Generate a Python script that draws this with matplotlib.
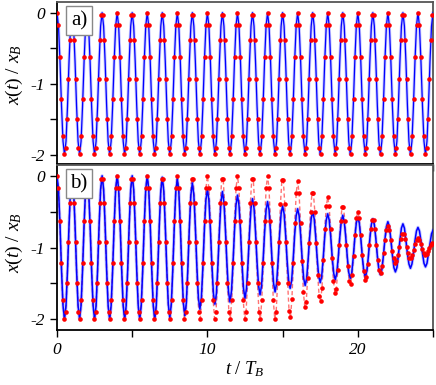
import numpy as np
import matplotlib
matplotlib.use('Agg')
import matplotlib.pyplot as plt
from matplotlib.ticker import MultipleLocator

plt.rcParams['font.family'] = ['Liberation Serif', 'DejaVu Serif']
plt.rcParams['mathtext.fontset'] = 'custom'
plt.rcParams['mathtext.rm'] = 'Liberation Serif'
plt.rcParams['mathtext.it'] = 'Liberation Serif:italic'

# time grids (t / T_B): exact curve every 0.1, numerical output 10.5 points per period
t_line = np.round(np.arange(0, 251) * 0.1, 2)
t_num = np.arange(0, 263) / 10.5

# panel a: exact curve
ya_exact = [
    0, -0.19, -0.69, -1.31, -1.81, -2, -1.81, -1.31, -0.69, -0.19,
    0, -0.19, -0.69, -1.31, -1.81, -2, -1.81, -1.31, -0.69, -0.19,
    0, -0.19, -0.69, -1.31, -1.81, -2, -1.81, -1.31, -0.69, -0.19,
    0, -0.19, -0.69, -1.31, -1.81, -2, -1.81, -1.31, -0.69, -0.19,
    0, -0.19, -0.69, -1.31, -1.81, -2, -1.81, -1.31, -0.69, -0.19,
    0, -0.19, -0.69, -1.31, -1.81, -2, -1.81, -1.31, -0.69, -0.19,
    0, -0.19, -0.69, -1.31, -1.81, -2, -1.81, -1.31, -0.69, -0.19,
    0, -0.19, -0.69, -1.31, -1.81, -2, -1.81, -1.31, -0.69, -0.19,
    0, -0.19, -0.69, -1.31, -1.81, -2, -1.81, -1.31, -0.69, -0.19,
    0, -0.19, -0.69, -1.31, -1.81, -2, -1.81, -1.31, -0.69, -0.19,
    0, -0.19, -0.69, -1.31, -1.81, -2, -1.81, -1.31, -0.69, -0.19,
    0, -0.19, -0.69, -1.31, -1.81, -2, -1.81, -1.31, -0.69, -0.19,
    0, -0.19, -0.69, -1.31, -1.81, -2, -1.81, -1.31, -0.69, -0.19,
    0, -0.19, -0.69, -1.31, -1.81, -2, -1.81, -1.31, -0.69, -0.19,
    0, -0.19, -0.69, -1.31, -1.81, -2, -1.81, -1.31, -0.69, -0.19,
    0, -0.19, -0.69, -1.31, -1.81, -2, -1.81, -1.31, -0.69, -0.19,
    0, -0.19, -0.69, -1.31, -1.81, -2, -1.81, -1.31, -0.69, -0.19,
    0, -0.19, -0.69, -1.31, -1.81, -2, -1.81, -1.31, -0.69, -0.19,
    0, -0.19, -0.69, -1.31, -1.81, -2, -1.81, -1.31, -0.69, -0.19,
    0, -0.19, -0.69, -1.31, -1.81, -2, -1.81, -1.31, -0.69, -0.19,
    0, -0.19, -0.69, -1.31, -1.81, -2, -1.81, -1.31, -0.69, -0.19,
    0, -0.19, -0.69, -1.31, -1.81, -2, -1.81, -1.31, -0.69, -0.19,
    0, -0.19, -0.69, -1.31, -1.81, -2, -1.81, -1.31, -0.69, -0.19,
    0, -0.19, -0.69, -1.31, -1.81, -2, -1.81, -1.31, -0.69, -0.19,
    0, -0.19, -0.69, -1.31, -1.81, -2, -1.81, -1.31, -0.69, -0.19,
    0,
]

# panel a: numerical points
ya_num = [
    0, -0.17, -0.63, -1.22, -1.73, -1.99, -1.90, -1.50, -0.93, -0.38, -0.04,
    -0.04, -0.38, -0.93, -1.50, -1.90, -1.99, -1.73, -1.22, -0.63, -0.17,
    0, -0.17, -0.63, -1.22, -1.73, -1.99, -1.90, -1.50, -0.93, -0.38, -0.04,
    -0.04, -0.38, -0.93, -1.50, -1.90, -1.99, -1.73, -1.22, -0.63, -0.17,
    0, -0.17, -0.63, -1.22, -1.73, -1.99, -1.90, -1.50, -0.93, -0.38, -0.04,
    -0.04, -0.38, -0.93, -1.50, -1.90, -1.99, -1.73, -1.22, -0.63, -0.17,
    0, -0.17, -0.63, -1.22, -1.73, -1.99, -1.90, -1.50, -0.93, -0.38, -0.04,
    -0.04, -0.38, -0.93, -1.50, -1.90, -1.99, -1.73, -1.22, -0.63, -0.17,
    0, -0.17, -0.63, -1.22, -1.73, -1.99, -1.90, -1.50, -0.93, -0.38, -0.04,
    -0.04, -0.38, -0.93, -1.50, -1.90, -1.99, -1.73, -1.22, -0.63, -0.17,
    0, -0.17, -0.63, -1.22, -1.73, -1.99, -1.90, -1.50, -0.93, -0.38, -0.04,
    -0.04, -0.38, -0.93, -1.50, -1.90, -1.99, -1.73, -1.22, -0.63, -0.17,
    0, -0.17, -0.63, -1.22, -1.73, -1.99, -1.90, -1.50, -0.93, -0.38, -0.04,
    -0.04, -0.38, -0.93, -1.50, -1.90, -1.99, -1.73, -1.22, -0.63, -0.17,
    0, -0.17, -0.63, -1.22, -1.73, -1.99, -1.90, -1.50, -0.93, -0.38, -0.04,
    -0.04, -0.38, -0.93, -1.50, -1.90, -1.99, -1.73, -1.22, -0.63, -0.17,
    0, -0.17, -0.63, -1.22, -1.73, -1.99, -1.90, -1.50, -0.93, -0.38, -0.04,
    -0.04, -0.38, -0.93, -1.50, -1.90, -1.99, -1.73, -1.22, -0.63, -0.17,
    0, -0.17, -0.63, -1.22, -1.73, -1.99, -1.90, -1.50, -0.93, -0.38, -0.04,
    -0.04, -0.38, -0.93, -1.50, -1.90, -1.99, -1.73, -1.22, -0.63, -0.17,
    0, -0.17, -0.63, -1.22, -1.73, -1.99, -1.90, -1.50, -0.93, -0.38, -0.04,
    -0.04, -0.38, -0.93, -1.50, -1.90, -1.99, -1.73, -1.22, -0.63, -0.17,
    0, -0.17, -0.63, -1.22, -1.73, -1.99, -1.90, -1.50, -0.93, -0.38, -0.04,
    -0.04, -0.38, -0.93, -1.50, -1.90, -1.99, -1.73, -1.22, -0.63, -0.17,
    0, -0.17, -0.63, -1.22, -1.73, -1.99, -1.90, -1.50, -0.93, -0.38, -0.04,
]

# panel b: exact curve (blue)
yb_exact = [
    0, -0.19, -0.69, -1.31, -1.81, -2, -1.81, -1.31, -0.69, -0.19,
    0, -0.19, -0.69, -1.31, -1.81, -2, -1.81, -1.31, -0.69, -0.19,
    0, -0.19, -0.69, -1.31, -1.81, -2, -1.81, -1.31, -0.69, -0.19,
    0, -0.19, -0.69, -1.31, -1.81, -2, -1.81, -1.31, -0.69, -0.19,
    0, -0.19, -0.69, -1.31, -1.81, -2, -1.81, -1.31, -0.69, -0.19,
    0, -0.19, -0.69, -1.31, -1.81, -2, -1.81, -1.31, -0.69, -0.19,
    0, -0.19, -0.69, -1.31, -1.81, -2, -1.81, -1.31, -0.70, -0.21,
    -0.02, -0.21, -0.70, -1.30, -1.79, -1.98, -1.79, -1.30, -0.70, -0.22,
    -0.04, -0.22, -0.70, -1.29, -1.77, -1.95, -1.77, -1.29, -0.72, -0.27,
    -0.10, -0.27, -0.72, -1.27, -1.70, -1.86, -1.70, -1.27, -0.75, -0.34,
    -0.19, -0.34, -0.75, -1.24, -1.64, -1.79, -1.64, -1.24, -0.76, -0.37,
    -0.22, -0.37, -0.76, -1.23, -1.61, -1.76, -1.61, -1.23, -0.77, -0.41,
    -0.27, -0.41, -0.77, -1.22, -1.57, -1.71, -1.57, -1.22, -0.79, -0.45,
    -0.32, -0.45, -0.79, -1.20, -1.53, -1.66, -1.53, -1.20, -0.80, -0.48,
    -0.36, -0.48, -0.80, -1.19, -1.50, -1.62, -1.50, -1.19, -0.82, -0.53,
    -0.42, -0.53, -0.82, -1.18, -1.46, -1.57, -1.46, -1.18, -0.83, -0.56,
    -0.46, -0.56, -0.83, -1.16, -1.43, -1.53, -1.43, -1.16, -0.85, -0.60,
    -0.50, -0.60, -0.85, -1.15, -1.40, -1.49, -1.40, -1.15, -0.85, -0.62,
    -0.53, -0.62, -0.85, -1.14, -1.36, -1.45, -1.36, -1.14, -0.86, -0.64,
    -0.55, -0.64, -0.86, -1.13, -1.35, -1.43, -1.35, -1.13, -0.87, -0.66,
    -0.58, -0.66, -0.87, -1.13, -1.33, -1.41, -1.33, -1.13, -0.88, -0.68,
    -0.60, -0.68, -0.88, -1.12, -1.31, -1.38, -1.31, -1.12, -0.89, -0.71,
    -0.64, -0.71, -0.89, -1.11, -1.28, -1.34, -1.28, -1.11, -0.90, -0.73,
    -0.67, -0.73, -0.90, -1.09, -1.23, -1.29, -1.23, -1.09, -0.91, -0.77,
    -0.72, -0.77, -0.91, -1.08, -1.22, -1.27, -1.22, -1.08, -0.93, -0.81,
    -0.76,
]

# panel b: numerical points (red)
yb_num = [
    0, -0.17, -0.63, -1.22, -1.73, -1.99, -1.90, -1.50, -0.93, -0.38, -0.04,
    -0.04, -0.38, -0.93, -1.50, -1.90, -1.99, -1.73, -1.22, -0.63, -0.17,
    0, -0.17, -0.63, -1.22, -1.73, -1.99, -1.90, -1.50, -0.93, -0.38, -0.04,
    -0.04, -0.38, -0.93, -1.50, -1.90, -1.99, -1.73, -1.22, -0.63, -0.17,
    0, -0.17, -0.63, -1.22, -1.73, -1.99, -1.90, -1.50, -0.93, -0.38, -0.04,
    -0.04, -0.38, -0.93, -1.50, -1.90, -1.99, -1.73, -1.22, -0.63, -0.17,
    0, -0.17, -0.63, -1.22, -1.73, -1.99, -1.90, -1.50, -0.93, -0.38, -0.04,
    -0.04, -0.38, -0.93, -1.50, -1.90, -1.99, -1.73, -1.22, -0.63, -0.17,
    0, -0.17, -0.63, -1.22, -1.73, -1.99, -1.90, -1.50, -0.93, -0.38, -0.04,
    -0.04, -0.38, -0.93, -1.50, -1.90, -1.99, -1.73, -1.22, -0.63, -0.17,
    0, -0.17, -0.63, -1.22, -1.73, -1.99, -1.90, -1.50, -0.93, -0.38, -0.04,
    -0.04, -0.38, -0.93, -1.50, -1.90, -1.99, -1.73, -1.22, -0.63, -0.17,
    0, -0.17, -0.63, -1.22, -1.73, -1.99, -1.90, -1.50, -0.93, -0.38, -0.04,
    -0.04, -0.38, -0.93, -1.50, -1.90, -1.99, -1.73, -1.22, -0.63, -0.17,
    0, -0.17, -0.63, -1.22, -1.73, -1.99, -1.90, -1.50, -0.93, -0.39, -0.06,
    -0.06, -0.39, -0.93, -1.49, -1.88, -1.97, -1.72, -1.22, -0.66, -0.24,
    -0.08, -0.24, -0.66, -1.19, -1.62, -1.83, -1.76, -1.42, -0.94, -0.50, -0.24,
    -0.24, -0.50, -0.94, -1.38, -1.68, -1.75, -1.56, -1.17, -0.74, -0.42,
    -0.30, -0.42, -0.74, -1.14, -1.47, -1.63, -1.58, -1.32, -0.96, -0.63, -0.44,
    -0.44, -0.63, -0.96, -1.26, -1.47, -1.51, -1.38, -1.12, -0.82, -0.59,
    -0.50, -0.59, -0.82, -1.10, -1.33, -1.45, -1.41, -1.23, -0.97, -0.74, -0.61,
    -0.61, -0.74, -0.97, -1.18, -1.32, -1.36, -1.26, -1.08, -0.89, -0.75,
    -0.70, -0.75, -0.89, -1.05, -1.15, -1.21, -1.19, -1.11, -0.99, -0.88, -0.81,
    -0.81, -0.88, -0.99, -1.08, -1.14, -1.15, -1.11, -1.03, -0.95, -0.89,
    -0.87, -0.89, -0.95, -1.02, -1.07, -1.10, -1.09, -1.05, -1.00, -0.96, -0.94,
]

fig = plt.figure(figsize=(4.36, 3.85), dpi=100)
axa = fig.add_axes([57/436, 1-164/385, 376/436, 162/385])
axb = fig.add_axes([57/436, 1-330/385, 376/436, 165/385])

# panel a
axa.plot(t_line, ya_exact, color='blue', lw=2.2, alpha=0.22, zorder=2)
axa.plot(t_line, ya_exact, color='blue', lw=0.9, zorder=3)
axa.plot(t_num, ya_num, 'o', color='red', ms=3.3, mew=0, zorder=4)

# panel b
axb.plot(t_num, yb_num, '--', color='red', lw=1.0, alpha=0.55, dashes=(3, 2), zorder=2)
axb.plot(t_line, yb_exact, color='blue', lw=2.4, alpha=0.22, zorder=3)
axb.plot(t_line, yb_exact, color='blue', lw=1.1, zorder=3)
axb.plot(t_num, yb_num, 'o', color='red', ms=3.3, mew=0, zorder=4)

for ax, lab, ylo in [(axa, 'a)', -2.13), (axb, 'b)', -2.15)]:
    ax.set_xlim(0, 25)
    ax.set_ylim(ylo, 0.15)
    ax.xaxis.set_major_locator(MultipleLocator(10))
    ax.xaxis.set_minor_locator(MultipleLocator(5))
    ax.yaxis.set_minor_locator(MultipleLocator(0.5))
    ax.tick_params(which='both', direction='out', length=5, width=1.0,
                   labelsize=12.5, top=False, right=False)
    ax.set_yticks([0, -1, -2])
    ax.set_yticklabels(['0', '-1', '-2'], fontstyle='italic')
    for sp in ['left', 'bottom']:
        ax.spines[sp].set_linewidth(1.3)
        ax.spines[sp].set_color('black')
    for sp in ['top', 'right']:
        ax.spines[sp].set_linewidth(1.3)
        ax.spines[sp].set_color('#555555')
    ax.set_ylabel(r'$x(t)\ /\ x_B$', fontsize=14)
    ax.text(0.0585, 0.945, lab, transform=ax.transAxes, fontsize=15, va='top', ha='center',
            bbox=dict(boxstyle='square,pad=0.22', fc='white', ec='#888888', lw=1.0), zorder=6)

axa.yaxis.set_label_coords(-0.085, 0.55)
axb.yaxis.set_label_coords(-0.085, 0.53)
axa.tick_params(labelbottom=False)
axb.set_xticks([0, 10, 20])
axb.set_xticklabels(['0', '10', '20'], fontstyle='italic')
axb.set_xlabel(r'$t\ /\ T_B$', fontsize=13.5, labelpad=1)

fig.savefig('out.png', dpi=100)
